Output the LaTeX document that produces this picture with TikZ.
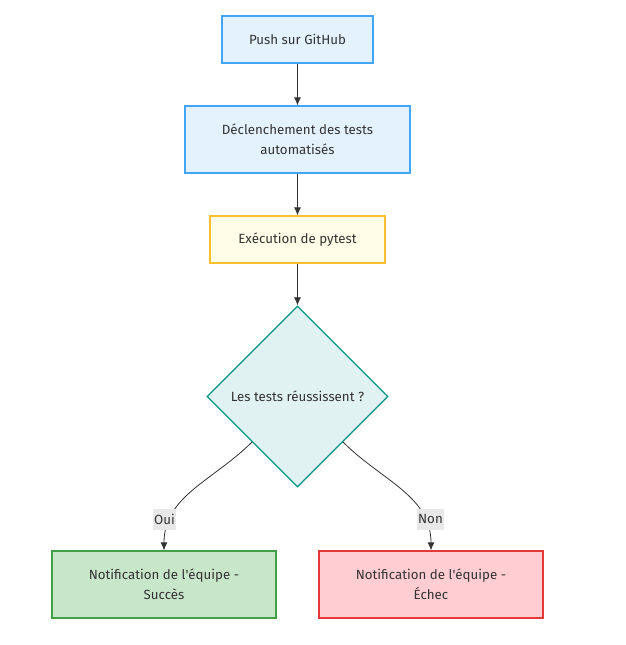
\documentclass[tikz,border=0pt]{standalone}
\usepackage{fontspec}
\setmainfont{Fira Sans}
\usepackage{xcolor}
\usetikzlibrary{shapes, arrows.meta}
\definecolor{bleuFond}{HTML}{E3F2FD}
\definecolor{bleuTrait}{HTML}{42A5F5}
\definecolor{jauneFond}{HTML}{FFFDE7}
\definecolor{jauneTrait}{HTML}{FBC02D}
\definecolor{vertEauFond}{HTML}{E0F2F1}
\definecolor{vertEauTrait}{HTML}{009688}
\definecolor{vertFond}{HTML}{C8E6C9}
\definecolor{vertTrait}{HTML}{43A047}
\definecolor{rougeFond}{HTML}{FFCDD2}
\definecolor{rougeTrait}{HTML}{E53935}
\definecolor{texte}{HTML}{333333}

\begin{document}
\begin{tikzpicture}[x=1pt,y=1pt]
            \tikzstyle{every node}=[font=\fontsize{13.3}{20}\selectfont, text=texte]
            \tikzstyle{boite}=[rectangle, draw, line width=1.3pt, align=center, inner sep=0pt]
            \tikzstyle{bleu}=[boite, draw=bleuTrait, fill=bleuFond]
            \tikzstyle{jaune}=[boite, draw=jauneTrait, fill=jauneFond]
            \tikzstyle{vert}=[boite, draw=vertTrait, fill=vertFond]
            \tikzstyle{rouge}=[boite, draw=rougeTrait, fill=rougeFond]
            \tikzstyle{losange}=[diamond, draw=vertEauTrait, fill=vertEauFond, line width=1.3pt, inner sep=0pt, minimum width=181, minimum height=181]
            \tikzstyle{fleche}=[->, >={Latex[length=8pt,width=7pt]}, draw=texte, line width=0.8pt]
            \tikzstyle{etiquette}=[fill=black!9, inner xsep=1pt, inner ysep=0pt, minimum height=21]
            \useasboundingbox (0,0) rectangle (626,-645);
            \node[bleu, minimum width=151, minimum height=47] (push) at (297.5,-39.5) {Push sur GitHub};
            \node[bleu, minimum width=225, minimum height=67] (declenche) at (297.5,-139.5) {Déclenchement des tests\\automatisés};
            \node[jaune, minimum width=175, minimum height=47] (pytest) at (297.5,-239.5) {Exécution de pytest};
            \node[losange] (reussite) at (297.5,-396.5) {Les tests réussissent ?};
            \node[vert, minimum width=224, minimum height=67] (succes) at (164,-584.5) {Notification de l\textquotesingle équipe -\\Succès};
            \node[rouge, minimum width=224, minimum height=67] (echec) at (431,-584.5) {Notification de l\textquotesingle équipe -\\Échec};
            \draw[fleche] (push) -- (declenche);
            \draw[fleche] (declenche) -- (pytest);
            \draw[fleche] (pytest) -- (reussite);
            \draw[fleche] (reussite.south west) to[out=-135, in=90] node[etiquette, pos=0.78, xshift=-6pt] {Oui} (succes.north);
            \draw[fleche] (reussite.south east) to[out=-45, in=90] node[etiquette, pos=0.78, xshift=6pt] {Non} (echec.north);
\end{tikzpicture}
\end{document}
